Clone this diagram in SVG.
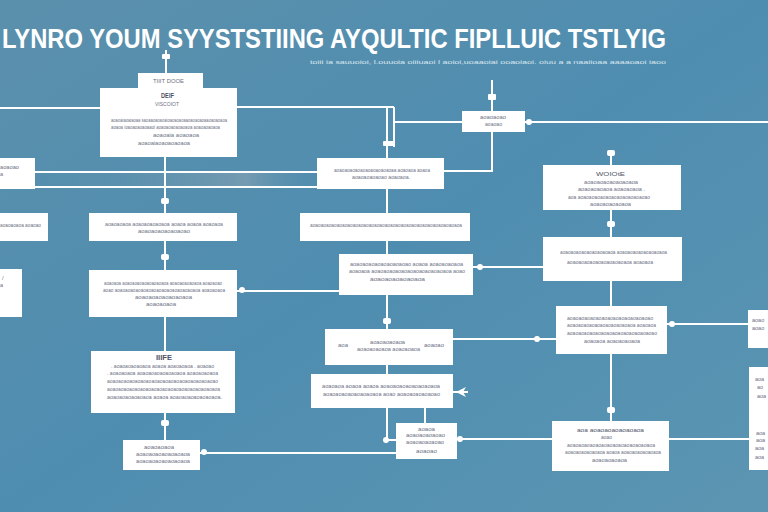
<svg xmlns="http://www.w3.org/2000/svg" width="768" height="512" viewBox="0 0 768 512">
<defs>
<linearGradient id="bg" x1="0" y1="0" x2="1" y2="1">
<stop offset="0" stop-color="#5b90ac"/>
<stop offset="0.5" stop-color="#4f8db0"/>
<stop offset="1" stop-color="#5b95b2"/>
</linearGradient>
<linearGradient id="band" x1="0" y1="0" x2="1" y2="0">
<stop offset="0" stop-color="#5a8fad" stop-opacity="0"/>
<stop offset="0.75" stop-color="#8aa3b2" stop-opacity="0.6"/>
<stop offset="1" stop-color="#5a8fad" stop-opacity="0"/>
</linearGradient>
<style>
.n{fill:#ffffff}
.c{stroke:#ffffff;stroke-width:2;fill:none}
.j{fill:#ffffff}
.t{font-family:"Liberation Sans",Arial,sans-serif;font-size:5.5px;fill:#6c7184}
.b{font-family:"Liberation Sans",Arial,sans-serif;font-size:7px;font-weight:bold;fill:#4d5266}
.s{font-family:"Liberation Sans",Arial,sans-serif;font-size:6px;fill:#d9e7ef}
.h{font-family:"Liberation Sans",Arial,sans-serif;font-size:27px;font-weight:bold;fill:#ffffff}
</style>
</defs>
<rect width="768" height="512" fill="url(#bg)"/>
<rect x="35" y="173" width="282" height="13" fill="url(#band)"/>

<text class="h" x="2" y="48" textLength="664" lengthAdjust="spacingAndGlyphs">LYNRO YOUM SYYSTSTIING AYQULTIC FIPLLUIC TSTLYIG</text>
<text class="s" x="310" y="64" textLength="356" lengthAdjust="spacingAndGlyphs">toiii ia sauuoioi, l.ouuoia oiiiuaoi l aoioi,uoaaoiai ooaoiaoi. oiuu a a naaiioaa aaaaoaoi iaoo</text>

<g id="connectors">
<path class="c" d="M166 50V73"/>
<path class="c" d="M165 157V213M165 241V270M165 317V351M165 413V440"/>
<path class="c" d="M0 108H100"/>
<path class="c" d="M237 107H394"/>
<path class="c" d="M387 107V158M394 107V147M394 122H462"/>
<path class="c" d="M492 80V111M492 132V171H444"/>
<path class="c" d="M525 122H768"/>
<path class="c" d="M35 172H317M0 187H317"/>
<path class="c" d="M387 189V213M387 241V254M387 295V329M387 365V374M387 408V440H396"/>
<path class="c" d="M425 408V423"/>
<path class="c" d="M237 291H339"/>
<path class="c" d="M473 267H543"/>
<path class="c" d="M453 339H556"/>
<path class="c" d="M200 453H396"/>
<path class="c" d="M457 439H552"/>
<path class="c" d="M669 439H749"/>
<path class="c" d="M611 150V165M611 210V237M611 281V306M611 354V421"/>
<path class="c" d="M667 324H748"/>
<path class="c" d="M453 392H468"/>
<path class="j" d="M456 392L466 387L463 392L466 397Z"/>
<rect class="j" x="162" y="54" width="8" height="5" rx="1"/>
<rect class="j" x="161" y="198" width="8" height="6" rx="2"/>
<rect class="j" x="161" y="254" width="8" height="6" rx="2"/>
<rect class="j" x="161" y="420" width="8" height="6" rx="2"/>
<rect class="j" x="383" y="141" width="12" height="5" rx="1"/>
<rect class="j" x="383" y="318" width="8" height="6" rx="2"/>
<rect class="j" x="488" y="94" width="8" height="6" rx="1"/>
<rect class="j" x="607" y="150" width="8" height="6" rx="2"/>
<rect class="j" x="607" y="221" width="8" height="6" rx="2"/>
<rect class="j" x="607" y="407" width="8" height="6" rx="2"/>
<circle class="j" cx="480" cy="267" r="3"/>
<circle class="j" cx="242" cy="290" r="3"/>
<circle class="j" cx="537" cy="339" r="3"/>
<circle class="j" cx="672" cy="324" r="3"/>
<circle class="j" cx="204" cy="452" r="3"/>
<circle class="j" cx="460" cy="439" r="3"/>
<circle class="j" cx="386" cy="440" r="3"/>
<circle class="j" cx="529" cy="122" r="3"/>
</g>

<g id="node-top">
<rect class="n" x="138" y="73" width="65" height="16"/>
<rect class="n" x="100" y="88" width="137" height="69"/>
<text class="t" x="153" y="83" textLength="31" lengthAdjust="spacingAndGlyphs">TIIIT DOOE</text>
<text class="b" x="161" y="98" textLength="13" lengthAdjust="spacingAndGlyphs">DEIF</text>
<text class="t" x="155" y="106" textLength="24" lengthAdjust="spacingAndGlyphs">VISCOIOT</text>
<text class="t" x="111" y="122" textLength="116" lengthAdjust="spacingAndGlyphs">aoaoaiaoaiaoaa saoaaoaoaoaioaoaoaoaaoaoaoaoaaoaoaoaoa</text>
<text class="t" x="111" y="129" textLength="109" lengthAdjust="spacingAndGlyphs">aoaoa ioaoaoaoaoaaoi aoaoaoaoaoaoaoa aoaoaoaoaoa</text>
<text class="t" x="153" y="137" textLength="46" lengthAdjust="spacingAndGlyphs">aoaoaia aoaoaoa</text>
<text class="t" x="138" y="145" textLength="52" lengthAdjust="spacingAndGlyphs">aoaoaiaoaoaoaoaoa</text>
</g>

<g id="node-small">
<rect class="n" x="462" y="111" width="63" height="21"/>
<text class="t" x="480" y="119" textLength="26" lengthAdjust="spacingAndGlyphs">aoaoaoao</text>
<text class="t" x="485" y="126" textLength="17" lengthAdjust="spacingAndGlyphs">aoaoao</text>
</g>

<g id="node-center">
<rect class="n" x="317" y="158" width="127" height="31"/>
<text class="t" x="334" y="172" textLength="96" lengthAdjust="spacingAndGlyphs">aoaoaoaoaoaoaoaoaoaoaoaa aoaoaoa aoaoa</text>
<text class="t" x="352" y="179" textLength="58" lengthAdjust="spacingAndGlyphs">aoaoaoaoaoao aoaoaoa.</text>
</g>

<g id="node-a">
<rect class="n" x="0" y="158" width="35" height="31"/>
<text class="t" x="0" y="169" textLength="19" lengthAdjust="spacingAndGlyphs">aoaoao</text>
<text class="t" x="0" y="176">a</text>
</g>

<g id="node-b">
<rect class="n" x="0" y="213" width="48" height="28"/>
<text class="t" x="0" y="227" textLength="41" lengthAdjust="spacingAndGlyphs">aoaoaoaoa aoaoao</text>
</g>

<g id="node-c">
<rect class="n" x="89" y="213" width="148" height="28"/>
<text class="t" x="105" y="226" textLength="118" lengthAdjust="spacingAndGlyphs">aoaoaoaoa aoaoaoaoaoaoa aoaoa aoaoa aoaoaoa</text>
<text class="t" x="138" y="233" textLength="52" lengthAdjust="spacingAndGlyphs">aoaoaoaoaoaoaoao</text>
</g>

<g id="node-c2">
<rect class="n" x="300" y="213" width="170" height="28"/>
<text class="t" x="310" y="227" textLength="152" lengthAdjust="spacingAndGlyphs">aoaoaoaoaoaoaoaoaoaoaoaoaoaoaoaoaoaoaoaoaoaoaoaoaoaoaoaoa</text>
</g>

<g id="node-e-left">
<rect class="n" x="0" y="269" width="22" height="48"/>
<text class="t" x="2" y="280">/</text>
<text class="t" x="0" y="287">a</text>
</g>

<g id="node-d">
<rect class="n" x="89" y="270" width="148" height="47"/>
<text class="t" x="104" y="285" textLength="118" lengthAdjust="spacingAndGlyphs">aoaoaoa aoaoaoaoaoaoaoaoaoa aoaoaoaoaoaoa aoaoaoao</text>
<text class="t" x="103" y="292" textLength="122" lengthAdjust="spacingAndGlyphs">aoao aoaoaoaoaoaoaoaoaoaoaoaoaoaoaoaoa aoaoaoaoa</text>
<text class="t" x="135" y="299" textLength="57" lengthAdjust="spacingAndGlyphs">aoaoaoaoaoaoaoaoa</text>
<text class="t" x="146" y="306" textLength="30" lengthAdjust="spacingAndGlyphs">aoaoaoaoa</text>
</g>

<g id="node-e2">
<rect class="n" x="339" y="254" width="134" height="41"/>
<text class="t" x="350" y="266" textLength="113" lengthAdjust="spacingAndGlyphs">aoaoaoaoaoaoaoaoaoao aoaoa aoaoaoaoaoa</text>
<text class="t" x="349" y="273" textLength="116" lengthAdjust="spacingAndGlyphs">aoaoaoa aoaoaoaoaoaoaoaoaoaoaoaoaoa aoao</text>
<text class="t" x="370" y="281" textLength="55" lengthAdjust="spacingAndGlyphs">aoaoaoaoaoaoaoa</text>
</g>

<g id="node-f2">
<rect class="n" x="325" y="329" width="128" height="36"/>
<text class="t" x="338" y="347" textLength="10" lengthAdjust="spacingAndGlyphs">aoa</text>
<text class="t" x="370" y="344" textLength="35" lengthAdjust="spacingAndGlyphs">aoaoaoaoaoa</text>
<text class="t" x="357" y="351" textLength="63" lengthAdjust="spacingAndGlyphs">aoaoaoaoaoa aoaoaoaoa</text>
<text class="t" x="424" y="347" textLength="20" lengthAdjust="spacingAndGlyphs">aoaoao</text>
</g>

<g id="node-g2">
<rect class="n" x="311" y="374" width="142" height="34"/>
<text class="t" x="322" y="388" textLength="118" lengthAdjust="spacingAndGlyphs">aoaoaoa aoaoa aoaoa aoaoaoaoaoaoaoaoaoa</text>
<text class="t" x="323" y="396" textLength="117" lengthAdjust="spacingAndGlyphs">aoaoaoaoaoaoaoaoaoa aoao aoaoaoaoaoaoao</text>
</g>

<g id="node-f">
<rect class="n" x="91" y="351" width="144" height="62"/>
<text class="b" x="156" y="360" textLength="16" lengthAdjust="spacingAndGlyphs">IIIFE</text>
<text class="t" x="111" y="368" textLength="103" lengthAdjust="spacingAndGlyphs">. aoaoaoaoaoaoa aoaoa aoaoaoaoa . aoaoao</text>
<text class="t" x="107" y="375" textLength="111" lengthAdjust="spacingAndGlyphs">. aoaoaoaoa aoaoaoaoaoaoaoaoa aoaoaoaoaoa</text>
<text class="t" x="107" y="383" textLength="111" lengthAdjust="spacingAndGlyphs">aoaoaoaoaoaoaoaoaoaoaoaoaoaoaoaoaoaoaoao</text>
<text class="t" x="107" y="391" textLength="113" lengthAdjust="spacingAndGlyphs">aoaoaoaoaoaoaoaoaoaoaoaoaoaoaoaoaoaoaoaoa</text>
<text class="t" x="107" y="399" textLength="115" lengthAdjust="spacingAndGlyphs">aoaoaoaoaoaoaoa aoaoa aoaoaoaoaoaoaoaoa.</text>
</g>

<g id="node-g">
<rect class="n" x="123" y="440" width="77" height="30"/>
<text class="t" x="144" y="449" textLength="30" lengthAdjust="spacingAndGlyphs">aoaoaoaoa</text>
<text class="t" x="136" y="456" textLength="54" lengthAdjust="spacingAndGlyphs">aoaoaoaoaoaoaoaoa</text>
<text class="t" x="136" y="463" textLength="54" lengthAdjust="spacingAndGlyphs">aoaoaoaoaoaoaoaoa</text>
</g>

<g id="node-h">
<rect class="n" x="396" y="423" width="61" height="36"/>
<text class="t" x="418" y="431" textLength="17" lengthAdjust="spacingAndGlyphs">aoaoa</text>
<text class="t" x="406" y="437" textLength="39" lengthAdjust="spacingAndGlyphs">aoaoaoaoaoao</text>
<text class="t" x="406" y="444" textLength="38" lengthAdjust="spacingAndGlyphs">aoaoaoaoaoao</text>
<text class="t" x="416" y="453" textLength="21" lengthAdjust="spacingAndGlyphs">aoaoao</text>
</g>

<g id="node-i">
<rect class="n" x="552" y="421" width="117" height="50"/>
<text class="t" x="577" y="432" textLength="67" lengthAdjust="spacingAndGlyphs" style="fill:#4f5468">aoa aoaoaoaoaoaoaoa</text>
<text class="t" x="601" y="439" textLength="11" lengthAdjust="spacingAndGlyphs">aoao</text>
<text class="t" x="567" y="447" textLength="88" lengthAdjust="spacingAndGlyphs">aoaoaoaoaoaoaoaoaoaoaoaoaoaoaoa</text>
<text class="t" x="565" y="454" textLength="96" lengthAdjust="spacingAndGlyphs">aoaoaoaoaoaoaoa aoaoa aoaoaoaoaoaoaoa</text>
<text class="t" x="592" y="462" textLength="35" lengthAdjust="spacingAndGlyphs">aoaoaoaoaoa</text>
</g>

<g id="node-r1">
<rect class="n" x="543" y="165" width="138" height="45"/>
<text class="t" x="596" y="176" textLength="29" lengthAdjust="spacingAndGlyphs" style="fill:#4f5468">WOIOtE</text>
<text class="t" x="584" y="184" textLength="54" lengthAdjust="spacingAndGlyphs">aoaoaoaoaoaoaoaoa</text>
<text class="t" x="578" y="191" textLength="67" lengthAdjust="spacingAndGlyphs">aoaoaoaoaoa aoaoaoaoa .</text>
<text class="t" x="568" y="199" textLength="82" lengthAdjust="spacingAndGlyphs">aoa aoaoaoaoaoaoaoaoaoaoaoaoao</text>
<text class="t" x="590" y="206" textLength="41" lengthAdjust="spacingAndGlyphs">aoaoaoaoaoaoa</text>
</g>

<g id="node-r2">
<rect class="n" x="543" y="237" width="139" height="44"/>
<text class="t" x="560" y="254" textLength="107" lengthAdjust="spacingAndGlyphs">aoaoaoaoaoaoaoaoaoaoa aoaoaoaoaoaoaoaoaoa</text>
<text class="t" x="567" y="264" textLength="86" lengthAdjust="spacingAndGlyphs">aoaoaoaoaoaoaoaoaoaoaoa aoaoaoa</text>
</g>

<g id="node-r3">
<rect class="n" x="556" y="306" width="111" height="48"/>
<text class="t" x="567" y="320" textLength="86" lengthAdjust="spacingAndGlyphs">aoaoaoaoaoaoaoaoaoaoaoaoaoaoao</text>
<text class="t" x="567" y="327" textLength="89" lengthAdjust="spacingAndGlyphs">aoaoaoaoaoaoaoaoaoaoaoaoa aoaoaoa</text>
<text class="t" x="567" y="335" textLength="90" lengthAdjust="spacingAndGlyphs">aoaoaoaoaoaoaoaoaoaoaoaoaoaoaoao</text>
<text class="t" x="584" y="343" textLength="56" lengthAdjust="spacingAndGlyphs">aoaoaoa aoaoaoaoaoa</text>
</g>

<g id="node-r4">
<rect class="n" x="748" y="310" width="20" height="38"/>
<text class="t" x="752" y="322">aoao</text>
<text class="t" x="752" y="330">aoao</text>
</g>

<g id="node-r5">
<rect class="n" x="749" y="367" width="19" height="103"/>
<text class="t" x="755" y="381">aoa</text>
<text class="t" x="757" y="389">ao</text>
<text class="t" x="757" y="398">aoa</text>
<text class="t" x="756" y="435">aoa</text>
<text class="t" x="756" y="442">aoa</text>
<text class="t" x="755" y="450">aoa</text>
<text class="t" x="755" y="459">aoa</text>
</g>
</svg>
